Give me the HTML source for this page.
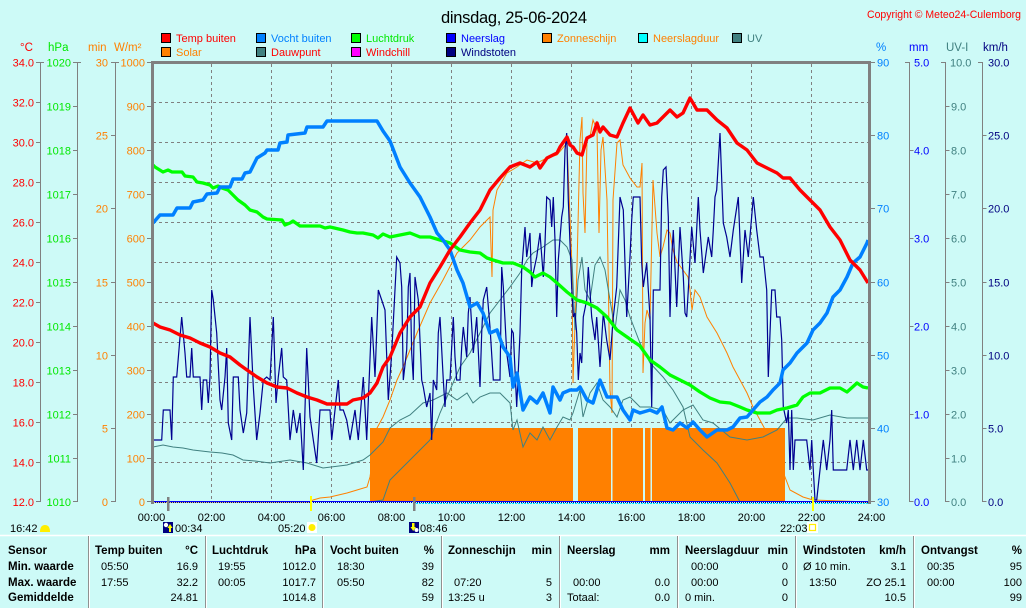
<!DOCTYPE html>
<html><head><meta charset="utf-8"><style>
html,body{margin:0;padding:0;background:#cdfaf7;}
svg{display:block;font-family:"Liberation Sans",Arial,sans-serif;}
.b{font-weight:bold;font-size:11.5px;fill:#000;}
.r{font-size:11px;fill:#000;}
</style></head><body>
<svg width="1026" height="608" viewBox="0 0 1026 608" xmlns="http://www.w3.org/2000/svg">
<rect width="1026" height="608" fill="#cdfaf7"/>
<!-- title -->
<text x="441" y="23" font-size="16.5" fill="#000" textLength="146">dinsdag, 25-06-2024</text>
<text x="867" y="18" font-size="11" fill="#ff0000" textLength="154" lengthAdjust="spacingAndGlyphs">Copyright © Meteo24-Culemborg</text>

<!-- legend -->
<g font-size="11" stroke-width="1">
<rect x="161.5" y="33.5" width="9" height="9" fill="#ff0000" stroke="#000"/><text x="176" y="42" fill="#ff0000">Temp buiten</text>
<rect x="161.5" y="47.5" width="9" height="9" fill="#ff8000" stroke="#000"/><text x="176" y="56" fill="#ff8000">Solar</text>
<rect x="256.5" y="33.5" width="9" height="9" fill="#0080ff" stroke="#000"/><text x="271" y="42" fill="#0080ff">Vocht buiten</text>
<rect x="256.5" y="47.5" width="9" height="9" fill="#408080" stroke="#000"/><text x="271" y="56" fill="#ff0000">Dauwpunt</text>
<rect x="351.5" y="33.5" width="9" height="9" fill="#00ff00" stroke="#000"/><text x="366" y="42" fill="#00e800">Luchtdruk</text>
<rect x="351.5" y="47.5" width="9" height="9" fill="#ff00ff" stroke="#000"/><text x="366" y="56" fill="#ff0000">Windchill</text>
<rect x="446.5" y="33.5" width="9" height="9" fill="#0000ff" stroke="#000"/><text x="461" y="42" fill="#0000ff">Neerslag</text>
<rect x="446.5" y="47.5" width="9" height="9" fill="#000080" stroke="#000"/><text x="461" y="56" fill="#000080">Windstoten</text>
<rect x="542.5" y="33.5" width="9" height="9" fill="#ff8000" stroke="#000"/><text x="557" y="42" fill="#ff8000">Zonneschijn</text>
<rect x="638.5" y="33.5" width="9" height="9" fill="#00ffff" stroke="#000"/><text x="653" y="42" fill="#ff8000">Neerslagduur</text>
<rect x="732.5" y="33.5" width="9" height="9" fill="#408080" stroke="#000"/><text x="747" y="42" fill="#408080">UV</text>
</g>

<!-- unit headers -->
<g font-size="11.5">
<text x="20" y="51" fill="#ff0000">°C</text>
<text x="48" y="51" fill="#00e800">hPa</text>
<text x="88" y="51" fill="#ff8000">min</text>
<text x="114" y="51" fill="#ff8000">W/m²</text>
<text x="876" y="51" fill="#0080ff">%</text>
<text x="909" y="51" fill="#0000ff">mm</text>
<text x="946" y="51" fill="#408080">UV-I</text>
<text x="983" y="51" fill="#000080">km/h</text>
</g>

<!-- axis lines -->
<g stroke="#808080" stroke-width="1" shape-rendering="crispEdges" fill="none">
<line x1="40.5" y1="62" x2="40.5" y2="502"/><line x1="40.5" y1="62.5" x2="44" y2="62.5"/>
<line x1="77.5" y1="62" x2="77.5" y2="502"/><line x1="77.5" y1="62.5" x2="81" y2="62.5"/>
<line x1="115.5" y1="62" x2="115.5" y2="502"/><line x1="115.5" y1="62.5" x2="119" y2="62.5"/>
<line x1="909.5" y1="62" x2="909.5" y2="502"/><line x1="905" y1="62.5" x2="909.5" y2="62.5"/>
<line x1="945.5" y1="62" x2="945.5" y2="502"/><line x1="941" y1="62.5" x2="945.5" y2="62.5"/>
<line x1="982.5" y1="62" x2="982.5" y2="502"/><line x1="978" y1="62.5" x2="982.5" y2="62.5"/>
<path d="M36 62.5H40.5M36 102.5H40.5M36 142.5H40.5M36 182.5H40.5M36 222.5H40.5M36 262.5H40.5M36 302.5H40.5M36 342.5H40.5M36 382.5H40.5M36 422.5H40.5M36 462.5H40.5M36 501.5H40.5"/>
<path d="M73 62.5H77.5M73 106.5H77.5M73 150.5H77.5M73 194.5H77.5M73 238.5H77.5M73 282.5H77.5M73 326.5H77.5M73 370.5H77.5M73 414.5H77.5M73 458.5H77.5M73 501.5H77.5"/>
<path d="M111 62.5H115.5M111 135.5H115.5M111 208.5H115.5M111 282.5H115.5M111 355.5H115.5M111 428.5H115.5M111 501.5H115.5"/>
<path d="M147 62.5H151M147 106.5H151M147 150.5H151M147 194.5H151M147 238.5H151M147 282.5H151M147 326.5H151M147 370.5H151M147 414.5H151M147 458.5H151M147 501.5H151"/>
<path d="M871 62.5H875M871 135.5H875M871 208.5H875M871 282.5H875M871 355.5H875M871 428.5H875M871 501.5H875"/>
<path d="M909.5 150.5H913.5M909.5 238.5H913.5M909.5 326.5H913.5M909.5 414.5H913.5M909.5 501.5H913.5"/>
<path d="M945.5 106.5H949.5M945.5 150.5H949.5M945.5 194.5H949.5M945.5 238.5H949.5M945.5 282.5H949.5M945.5 326.5H949.5M945.5 370.5H949.5M945.5 414.5H949.5M945.5 458.5H949.5M945.5 501.5H949.5"/>
<path d="M982.5 135.5H986.5M982.5 208.5H986.5M982.5 282.5H986.5M982.5 355.5H986.5M982.5 428.5H986.5M982.5 501.5H986.5"/>
</g>

<!-- axis labels -->
<g font-size="11" fill="#ff0000" text-anchor="end">
<text x="34" y="66.5">34.0</text><text x="34" y="106.5">32.0</text><text x="34" y="146.5">30.0</text><text x="34" y="186.5">28.0</text><text x="34" y="226.5">26.0</text><text x="34" y="266.5">24.0</text><text x="34" y="306.5">22.0</text><text x="34" y="346.5">20.0</text><text x="34" y="386.5">18.0</text><text x="34" y="426.5">16.0</text><text x="34" y="466.5">14.0</text><text x="34" y="506">12.0</text>
</g>
<g font-size="11" fill="#00e800" text-anchor="end">
<text x="71" y="66.5">1020</text><text x="71" y="110.5">1019</text><text x="71" y="154.5">1018</text><text x="71" y="198.5">1017</text><text x="71" y="242.5">1016</text><text x="71" y="286.5">1015</text><text x="71" y="330.5">1014</text><text x="71" y="374.5">1013</text><text x="71" y="418.5">1012</text><text x="71" y="462.5">1011</text><text x="71" y="506">1010</text>
</g>
<g font-size="11" fill="#ff8000" text-anchor="end">
<text x="108" y="66.5">30</text><text x="108" y="139.5">25</text><text x="108" y="212.5">20</text><text x="108" y="286.5">15</text><text x="108" y="359.5">10</text><text x="108" y="432.5">5</text><text x="108" y="506">0</text>
<text x="145" y="66.5">1000</text><text x="145" y="110.5">900</text><text x="145" y="154.5">800</text><text x="145" y="198.5">700</text><text x="145" y="242.5">600</text><text x="145" y="286.5">500</text><text x="145" y="330.5">400</text><text x="145" y="374.5">300</text><text x="145" y="418.5">200</text><text x="145" y="462.5">100</text><text x="145" y="506">0</text>
</g>
<g font-size="11" fill="#0080ff">
<text x="877" y="66.5">90</text><text x="877" y="139.5">80</text><text x="877" y="212.5">70</text><text x="877" y="286.5">60</text><text x="877" y="359.5">50</text><text x="877" y="432.5">40</text><text x="877" y="506">30</text>
</g>
<g font-size="11" fill="#0000ff">
<text x="914" y="66.5">5.0</text><text x="914" y="154.5">4.0</text><text x="914" y="242.5">3.0</text><text x="914" y="330.5">2.0</text><text x="914" y="418.5">1.0</text><text x="914" y="506">0.0</text>
</g>
<g font-size="11" fill="#408080">
<text x="950" y="66.5">10.0</text><text x="951" y="110.5">9.0</text><text x="951" y="154.5">8.0</text><text x="951" y="198.5">7.0</text><text x="951" y="242.5">6.0</text><text x="951" y="286.5">5.0</text><text x="951" y="330.5">4.0</text><text x="951" y="374.5">3.0</text><text x="951" y="418.5">2.0</text><text x="951" y="462.5">1.0</text><text x="951" y="506">0.0</text>
</g>
<g font-size="11" fill="#000080">
<text x="988" y="66.5">30.0</text><text x="988" y="139.5">25.0</text><text x="988" y="212.5">20.0</text><text x="988" y="286.5">15.0</text><text x="988" y="359.5">10.0</text><text x="988" y="432.5">5.0</text><text x="988" y="506">0.0</text>
</g>

<!-- grid -->
<g stroke="#808080" stroke-width="1" stroke-dasharray="3 3" shape-rendering="crispEdges">
<path d="M211.5 64V502M271.5 64V502M331.5 64V502M391.5 64V502M451.5 64V502M511.5 64V502M571.5 64V502M631.5 64V502M691.5 64V502M751.5 64V502M811.5 64V502"/>
<path d="M153 102.5H868M153 142.5H868M153 182.5H868M153 222.5H868M153 262.5H868M153 302.5H868M153 342.5H868M153 382.5H868M153 422.5H868M153 462.5H868"/>
</g>

<!-- sunshine bars -->
<rect x="370" y="428" width="415" height="74" fill="#ff8000"/>
<g fill="#cdfaf7">
<rect x="573" y="428" width="5" height="74"/>
<rect x="611" y="428" width="1.5" height="74"/>
<rect x="643" y="428" width="2" height="74"/>
<rect x="650.5" y="428" width="1.5" height="74"/>
</g>

<!-- solar -->
<polyline fill="none" stroke="#ff8000" stroke-width="1" points="151,502 310,502 313,500 320,498 330,497 347,493 357,490 367,487 370,477 377,428 383,417 390,400 397,380 403,367 417,333 430,303 443,280 457,253 470,240 480,227 490,217 492,277 493,210 497,190 507,173 517,167 527,160 537,163 547,158 557,155 567,143 572,267 573,383 577,267 580,140 582,117 583,193 585,233 587,140 590,137 593,120 597,130 599,233 601,150 603,137 607,200 610,390 612,413 613,200 617,143 620,140 623,165 630,178 637,187 640,187 642,163 643,373 645,323 647,310 650,320 653,180 657,233 660,257 663,247 667,230 670,233 673,250 677,262 683,270 688,277 690,290 692,310 695,290 700,297 707,317 717,333 727,353 733,367 740,380 747,393 753,407 760,420 767,433 775,450 785,477 790,490 803,497 813,500 869,502"/>

<!-- dewpoint -->
<polyline fill="none" stroke="#408080" stroke-width="1" points="153,447 163,445 173,447 183,448 193,450 210,452 222,453 233,455 243,460 255,461 270,463 290,460 307,463 323,468 347,465 363,460 370,455 383,442 390,428 400,420 410,415 423,403 433,400 447,393 457,400 467,393 473,403 480,397 490,393 500,393 510,403 513,430 517,420 523,447 530,433 537,440 543,427 550,440 557,427 563,417 570,420 573,413 580,390 583,417 590,393 597,383 603,400 610,407 617,417 623,400 630,397 640,407 650,407 663,410 670,423 683,410 693,405 703,420 713,423 730,437 747,440 763,437 777,430 787,418 797,418 813,420 830,415 847,418 869,418"/>

<!-- UV -->
<polyline fill="none" stroke="#408080" stroke-width="1" points="370,502 383,500 390,480 403,467 417,453 430,440 440,413 450,390 460,367 470,353 480,333 490,313 500,300 510,287 520,273 527,260 533,253 543,247 553,240 560,240 567,247 572,260 575,330 578,280 582,257 585,290 590,300 595,265 600,257 605,270 610,300 615,330 620,290 625,300 630,317 635,330 640,343 650,363 663,377 673,390 683,407 690,437 703,450 717,463 730,483 740,502"/>

<!-- precipitation / duration baselines -->
<line x1="153" y1="501.5" x2="869" y2="501.5" stroke="#0000ff" stroke-width="1"/>
<line x1="153" y1="502.5" x2="869" y2="502.5" stroke="#000080" stroke-width="1" stroke-dasharray="1 1"/>
<line x1="413" y1="503.5" x2="869" y2="503.5" stroke="#00e8ff" stroke-width="1" stroke-dasharray="2 1"/>

<!-- wind gusts -->
<polyline fill="none" stroke="#000090" stroke-width="1.2" stroke-linejoin="miter" points="153,440 161.7,440 163.3,410 170,410 171.7,440 173.3,377 176.7,377 181.7,317 185,353 186.7,377 190,377 191.7,348 193.3,377 200,377 201.7,410 203.3,380 206.7,380 208.3,403 210,377 211.7,290 213.3,300 216.7,333 220,400 221.7,410 225,377 226.7,348 228.3,423 231.7,440 233.3,377 238.3,377 240,410 243.3,433 246.7,413 250,317 253.3,387 256.7,440 260,413 263.3,380 266.7,377 270,380 273.3,317 276,403 278.3,377 281.7,348 283.3,377 286.7,380 290,440 293.3,410 296.7,433 300,413 303.3,470 306.7,348 310,417 313.3,440 316.7,463 320,410 330,410 331.7,440 335,410 338.3,380 340,410 343.3,410 346.7,420 350,440 355,410 358.3,440 363.3,377 366.7,440 371.7,317 375,377 378.3,290 381.7,300 385,310 388.3,400 391.7,353 396.7,257 400,263 401.7,287 403.3,380 406.7,350 408.3,287 410,273 411.7,353 413.3,380 415,277 418.3,300 421.7,380 423.3,387 426.7,407 430,393 431.7,440 433.3,380 436.7,390 438.3,333 440,317 443.3,380 445,407 446.7,380 450,380 451.7,347 453.3,317 455,357 456.7,380 460,380 461.7,347 463.3,327 466.7,357 468.3,313 470,297 473.3,353 476.7,317 480,387 481.7,333 483.3,300 486.7,287 490,327 493.3,380 500,380 501.7,267 503.3,287 506.7,353 510,377 511.7,330 513.3,333 516.7,407 520,333 521.7,270 525,227 526.7,257 530,233 531.7,287 533.3,273 536.7,257 540,233 543.3,277 545,243 546.7,197 550,200 551.7,227 553.3,197 555,240 556.7,317 558.3,260 561.7,217 563.3,207 565,150 566.7,133 568.3,200 571.7,287 573.3,317 575,313 576.7,333 578.3,380 580,353 581.7,363 583.3,317 586.7,300 588.3,267 591.7,317 595,340 596.7,317 600,367 603.3,313 606.7,340 610,360 613.3,317 616.7,287 620,197 623.3,210 626.7,317 630,257 631.7,220 633.3,197 640,197 641.7,263 643.3,287 646.7,263 648.3,290 650,317 651.7,407 653.3,290 660,290 661.7,197 663.3,170 666,167 668.3,217 670,317 671.7,257 673.3,230 676.7,307 680,227 683.3,277 685,313 686.7,317 688.3,290 691.7,227 695,263 698.3,197 700,230 703.3,273 708.3,237 711.7,257 713.3,230 715,197 716.7,190 720,133 723.3,223 726.7,237 730,257 733.3,230 738.3,197 741.7,283 745,230 748.3,257 753.3,197 756.7,230 760,257 763.3,257 766.7,290 768.3,377 771.7,290 775,290 776.7,317 780,317 781.7,340 783.3,407 786.7,423 788.3,410 790,470 791.7,410 793.3,470 795,440 806.7,440 810,470 811.7,440 813.3,470 815,500 816.7,500 820,470 823.3,440 826.7,470 830,440 831.7,410 833.3,470 846.7,470 850,440 853.3,470 856.7,440 860,470 863.3,440 866.7,470 869,470"/>

<!-- pressure -->
<polyline fill="none" stroke="#00ff00" stroke-width="3.3" stroke-linejoin="round" points="153,165 155,167 163,172 168,170 172,172 182,172 185,176 193,177 197,182 203,183 210,185 213,188 218,186 222,188 228,190 233,195 238,200 245,205 250,210 257,212 263,217 267,219 282,220 285,225 290,223 293,221 300,226 320,226 325,228 330,227 343,230 350,232 357,233 363,233 373,235 378,238 383,234 390,237 400,235 410,233 420,237 430,237 440,240 450,243 460,250 470,252 480,253 487,258 493,260 503,263 513,263 523,267 530,272 535,277 543,273 550,277 557,283 567,292 577,300 587,303 597,308 607,317 617,330 627,337 640,346 650,360 660,367 670,375 680,380 690,385 700,392 710,398 720,402 730,403 740,407 747,410 757,413 770,413 777,410 787,408 797,405 803,397 810,393 820,393 830,388 840,388 847,392 857,383 863,387 868,388"/>

<!-- humidity -->
<polyline fill="none" stroke="#0080ff" stroke-width="3.5" stroke-linejoin="round" points="153,223 160,215 173,215 177,208 190,208 193,202 203,200 207,194 217,193 220,187 230,187 233,179 242,179 245,173 250,172 257,158 265,153 267,150 278,150 280,143 287,142 288,135 305,133 307,127 323,127 327,121 377,121 383,131 390,141 400,167 410,183 420,197 430,217 437,233 443,240 450,250 457,270 463,283 470,307 477,303 483,313 490,333 497,330 503,347 510,357 513,387 517,373 523,410 530,397 537,403 543,393 550,413 553,387 560,400 563,393 570,390 577,390 580,387 587,400 593,403 600,380 607,397 617,397 623,410 630,420 633,410 640,413 650,410 657,413 662,407 667,428 673,430 680,423 687,428 693,422 700,430 707,437 717,430 727,430 733,427 740,418 747,417 753,410 760,402 767,397 773,390 780,383 783,370 790,363 797,353 807,343 813,330 820,323 827,313 833,297 840,290 847,277 853,263 860,257 867,243 868,240"/>

<!-- temperature -->
<polyline fill="none" stroke="#ff0000" stroke-width="3.4" stroke-linejoin="round" points="153,323 160,327 170,330 180,335 190,338 200,343 210,347 220,353 230,357 240,365 247,370 257,377 267,383 277,387 287,388 297,393 307,397 317,400 327,404 347,404 353,400 363,398 370,393 377,383 383,367 390,357 400,333 410,317 420,307 430,283 440,267 450,250 460,237 470,223 480,210 490,190 500,178 510,167 520,163 530,167 537,162 540,168 547,158 557,153 560,147 567,137 570,145 573,147 577,153 582,155 587,138 593,135 597,123 600,132 603,127 610,135 617,137 623,123 630,108 638,123 643,115 650,125 657,123 663,117 670,110 677,117 683,113 690,98 697,110 707,110 717,120 727,128 737,143 747,150 757,163 767,168 777,173 783,178 790,178 800,190 810,200 820,210 830,227 840,240 850,260 860,270 868,283"/>

<!-- plot border -->
<g fill="#808080">
<rect x="151" y="61" width="720" height="3"/>
<rect x="151" y="61" width="3" height="443"/>
<rect x="868" y="61" width="3" height="443"/>
</g>

<!-- event markers -->
<rect x="167" y="497" width="2.5" height="14" fill="#808080"/>
<rect x="413" y="497" width="2.5" height="14" fill="#808080"/>
<rect x="310" y="496" width="2" height="15" fill="#ffff00"/>
<rect x="812" y="497" width="2" height="14" fill="#ffff00"/>

<!-- time labels -->
<g font-size="11" fill="#000" text-anchor="middle">
<text x="151.5" y="521">00:00</text><text x="211.5" y="521">02:00</text><text x="271.5" y="521">04:00</text><text x="331.5" y="521">06:00</text><text x="391.5" y="521">08:00</text><text x="451.5" y="521">10:00</text><text x="511.5" y="521">12:00</text><text x="571.5" y="521">14:00</text><text x="631.5" y="521">16:00</text><text x="691.5" y="521">18:00</text><text x="751.5" y="521">20:00</text><text x="811.5" y="521">22:00</text><text x="871.5" y="521">24:00</text>
</g>
<g font-size="11" fill="#000">
<text x="10" y="532">16:42</text>
<text x="175" y="532">00:34</text>
<text x="278" y="532">05:20</text>
<text x="420" y="532">08:46</text>
<text x="780" y="532">22:03</text>
</g>
<!-- icons -->
<path d="M40 532 Q40 525 45 525 Q50 525 50 532 Z" fill="#ffee00"/>
<rect x="163" y="522" width="10" height="11" fill="#000080"/>
<circle cx="166" cy="525" r="2.2" fill="#fff"/>
<path d="M170 524 L172.5 528 H171 V532 H169 V528 H167.5 Z" fill="#ffff00"/>
<rect x="307" y="522" width="10" height="11" fill="#fff"/>
<circle cx="312" cy="527.5" r="3.5" fill="#ffee00"/>
<rect x="409" y="522" width="10" height="11" fill="#000080"/>
<path d="M412 523 L414.5 523 V527 H416 L413.2 531 L410.5 527 H412 Z" fill="#ffff00"/>
<circle cx="416.5" cy="530" r="2" fill="#fff"/>
<rect x="807" y="522" width="11" height="11" fill="#fff"/>
<rect x="809.5" y="524.5" width="6" height="6" fill="none" stroke="#ffee00" stroke-width="1.2"/>

<!-- table lines -->
<line x1="0" y1="535.5" x2="1026" y2="535.5" stroke="#ffffff" stroke-width="1.5"/>
<g stroke-width="1" shape-rendering="crispEdges">
<g stroke="#909090"><path d="M88.5 536V608M205.5 536V608M322.5 536V608M441.5 536V608M559.5 536V608M677.5 536V608M795.5 536V608M913.5 536V608"/></g>
<g stroke="#ffffff"><path d="M89.5 536V608M206.5 536V608M323.5 536V608M442.5 536V608M560.5 536V608M678.5 536V608M796.5 536V608M914.5 536V608"/></g>
</g>

<!-- table text -->
<g class="b">
<text x="8" y="554" class="b">Sensor</text>
<text x="8" y="570" class="b">Min. waarde</text>
<text x="8" y="586" class="b">Max. waarde</text>
<text x="8" y="601" class="b">Gemiddelde</text>
<text x="95" y="554" class="b">Temp buiten</text><text x="198" y="554" class="b" text-anchor="end">°C</text>
<text x="212" y="554" class="b">Luchtdruk</text><text x="316" y="554" class="b" text-anchor="end">hPa</text>
<text x="330" y="554" class="b">Vocht buiten</text><text x="434" y="554" class="b" text-anchor="end">%</text>
<text x="448" y="554" class="b">Zonneschijn</text><text x="552" y="554" class="b" text-anchor="end">min</text>
<text x="567" y="554" class="b">Neerslag</text><text x="670" y="554" class="b" text-anchor="end">mm</text>
<text x="685" y="554" class="b">Neerslagduur</text><text x="788" y="554" class="b" text-anchor="end">min</text>
<text x="803" y="554" class="b">Windstoten</text><text x="906" y="554" class="b" text-anchor="end">km/h</text>
<text x="921" y="554" class="b">Ontvangst</text><text x="1022" y="554" class="b" text-anchor="end">%</text>
</g>
<g class="r" font-size="11">
<text x="101" y="570" class="r">05:50</text><text x="198" y="570" class="r" text-anchor="end">16.9</text>
<text x="101" y="586" class="r">17:55</text><text x="198" y="586" class="r" text-anchor="end">32.2</text>
<text x="198" y="601" class="r" text-anchor="end">24.81</text>
<text x="218" y="570" class="r">19:55</text><text x="316" y="570" class="r" text-anchor="end">1012.0</text>
<text x="218" y="586" class="r">00:05</text><text x="316" y="586" class="r" text-anchor="end">1017.7</text>
<text x="316" y="601" class="r" text-anchor="end">1014.8</text>
<text x="337" y="570" class="r">18:30</text><text x="434" y="570" class="r" text-anchor="end">39</text>
<text x="337" y="586" class="r">05:50</text><text x="434" y="586" class="r" text-anchor="end">82</text>
<text x="434" y="601" class="r" text-anchor="end">59</text>
<text x="454" y="586" class="r">07:20</text><text x="552" y="586" class="r" text-anchor="end">5</text>
<text x="448" y="601" class="r">13:25 u</text><text x="552" y="601" class="r" text-anchor="end">3</text>
<text x="573" y="586" class="r">00:00</text><text x="670" y="586" class="r" text-anchor="end">0.0</text>
<text x="567" y="601" class="r">Totaal:</text><text x="670" y="601" class="r" text-anchor="end">0.0</text>
<text x="691" y="570" class="r">00:00</text><text x="788" y="570" class="r" text-anchor="end">0</text>
<text x="691" y="586" class="r">00:00</text><text x="788" y="586" class="r" text-anchor="end">0</text>
<text x="685" y="601" class="r">0 min.</text><text x="788" y="601" class="r" text-anchor="end">0</text>
<text x="803" y="570" class="r">Ø 10 min.</text><text x="906" y="570" class="r" text-anchor="end">3.1</text>
<text x="809" y="586" class="r">13:50</text><text x="906" y="586" class="r" text-anchor="end">ZO 25.1</text>
<text x="906" y="601" class="r" text-anchor="end">10.5</text>
<text x="927" y="570" class="r">00:35</text><text x="1022" y="570" class="r" text-anchor="end">95</text>
<text x="927" y="586" class="r">00:00</text><text x="1022" y="586" class="r" text-anchor="end">100</text>
<text x="1022" y="601" class="r" text-anchor="end">99</text>
</g>
</svg>
</body></html>
